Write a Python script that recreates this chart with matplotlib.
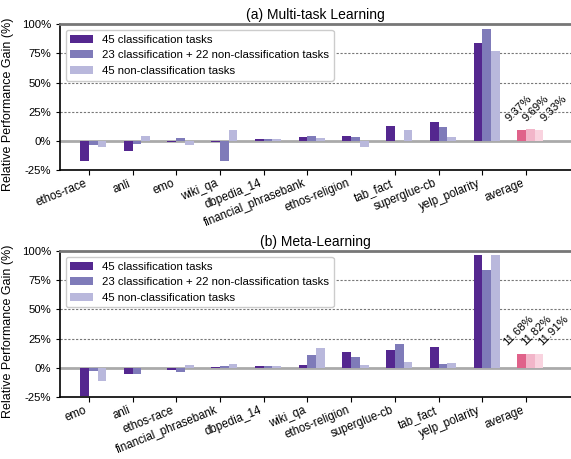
import numpy as np
import matplotlib
matplotlib.use('Agg')
import matplotlib.pyplot as plt
from matplotlib.ticker import FuncFormatter

plt.rcParams['font.family'] = ['Liberation Sans', 'DejaVu Sans']

# datos (a) multi-task
tasks_a = ['ethos-race', 'anli', 'emo', 'wiki_qa', 'dbpedia_14', 'financial_phrasebank',
           'ethos-religion', 'tab_fact', 'superglue-cb', 'yelp_polarity']
cls45_a = [-17.4, -8.9, -1.5, -0.8, 1.5, 3.4, 4.0, 12.8, 16.2, 83.9]
mix_a = [-3.7, -2.9, 2.3, -17.4, 1.5, 4.0, 3.4, -0.6, 11.9, 95.6]
noncls45_a = [-5.1, 4.0, -3.4, 9.1, 1.5, 2.3, -5.1, 9.4, 3.4, 76.8]
avg_a = [9.37, 9.69, 9.33]

# datos (b) meta-learning
tasks_b = ['emo', 'anli', 'ethos-race', 'financial_phrasebank', 'dbpedia_14', 'wiki_qa',
           'ethos-religion', 'superglue-cb', 'tab_fact', 'yelp_polarity']
cls45_b = [-24.6, -5.7, -2.0, 0.6, 1.3, 2.0, 13.1, 14.9, 17.4, 96.5]
mix_b = [-2.9, -5.7, -3.7, 1.1, 1.3, 10.6, 8.9, 20.0, 2.8, 83.6]
noncls45_b = [-11.4, -0.3, 2.0, 2.9, 1.3, 16.6, 2.0, 4.6, 3.7, 96.5]
avg_b = [11.68, 11.82, 11.91]

labels = ['45 classification tasks', '23 classification + 22 non-classification tasks',
          '45 non-classification tasks']
colors = ['#54278f', '#7f7bb9', '#b9b8dc']
avg_colors = ['#e0628a', '#f2b5c9', '#f9d3df']
w = 0.2


def draw(ax, title, tasks, series, avg):
    x = np.arange(len(tasks))
    for i, vals in enumerate(series):
        ax.bar(x + (i - 1) * w, vals, w, align='edge', color=colors[i], label=labels[i], zorder=3)
    xa = len(tasks)
    for i, v in enumerate(avg):
        ax.bar(xa + (i - 1) * w, v, w, align='edge', color=avg_colors[i], zorder=3)
        # las etiquetas van separadas el doble que las barras
        ax.text(xa - 0.17 + 2 * w * i, v + 5.5, '%.2f%%' % v, rotation=45, ha='center',
                va='bottom', fontsize=8.2)
    ax.set_xticks(list(x) + [xa])
    ax.set_xticklabels(tasks + ['average'], rotation=22, ha='right', fontsize=8.3)
    ax.set_xlim(-0.66, 11.03)
    ax.set_ylim(-25, 100)
    ax.set_yticks([-25, 0, 25, 50, 75, 100])
    ax.yaxis.set_major_formatter(FuncFormatter(lambda v, p: '%d%%' % v))
    ax.tick_params(axis='y', labelsize=8.2, length=3)
    ax.tick_params(axis='x', length=3.5, pad=2)
    for yy in [25, 50, 75]:
        ax.axhline(yy, color='#777777', lw=0.8, ls=(0, (2, 1.5)), zorder=1)
    ax.axhline(0, color='#aaaaaa', lw=2, zorder=2)
    ax.spines['top'].set_color('#777777')
    ax.spines['top'].set_linewidth(2)
    ax.spines['right'].set_visible(False)
    ax.spines['left'].set_linewidth(1.2)
    ax.spines['bottom'].set_linewidth(1.2)
    ax.set_title(title, fontsize=10, pad=4)
    ax.set_ylabel('Relative Performance Gain (%)', fontsize=9)
    ax.legend(loc='upper left', fontsize=8.2, borderaxespad=0.5, handlelength=2.0,
              edgecolor='#cccccc', framealpha=1)


fig = plt.figure(figsize=(5.71, 4.59), dpi=100)
ax1 = fig.add_axes([0.105, 0.630, 0.895, 0.317])
ax2 = fig.add_axes([0.105, 0.1357, 0.895, 0.3168])
draw(ax1, '(a) Multi-task Learning', tasks_a, [cls45_a, mix_a, noncls45_a], avg_a)
draw(ax2, '(b) Meta-Learning', tasks_b, [cls45_b, mix_b, noncls45_b], avg_b)
ax1.yaxis.set_label_coords(-0.09, 0.45)
ax2.yaxis.set_label_coords(-0.09, 0.45)
fig.savefig('out.png', dpi=100)
